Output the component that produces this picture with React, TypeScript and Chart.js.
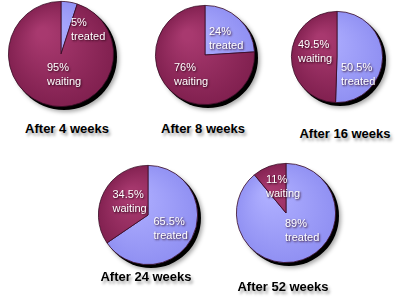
import React, { useEffect, useRef } from "react";
import { Chart, registerables } from "chart.js";

Chart.register(...registerables);

// ---- data ----
const categories = ["After 4 weeks", "After 8 weeks", "After 16 weeks", "After 24 weeks", "After 52 weeks"];
const sliceNames = ["treated", "waiting"];
const treatedPct = [5, 24, 50.5, 65.5, 89];
const waitingPct = [95, 76, 49.5, 34.5, 11];

// ---- layout / style ----
const pieCenters = [
  [61, 54],
  [205, 55],
  [337, 57],
  [147.5, 215],
  [286, 213],
];
const pieRadii = [53, 50, 46, 50, 50];
const titleCenters = [
  [67, 127.5],
  [203, 127.5],
  [345, 132.5],
  [146, 276],
  [283, 286],
];
// label anchor (left x, first line middle y) relative to pie centre, for [treated, waiting]
const labelOffsets = [
  [[10, -31], [-14, 14]],
  [[4, -23], [-31, 13]],
  [[4, 11], [-39, -12]],
  [[5.5, 7], [-35.5, -20]],
  [[-1, 11], [-20, -33]],
];

const PAD = 2;
const EXTRA = 10;

const colorSets = [
  ["#aeaeff", "#8f8ff2"], // treated (light, dark)
  ["#a8396f", "#7f1f4e"], // waiting
];

function sliceFill(ctx: any) {
  const idx = ctx.dataIndex ?? 0;
  const chart = ctx.chart;
  const area = chart.chartArea;
  if (!area || !isFinite(area.left)) return colorSets[idx][0];
  const cx = (area.left + area.right) / 2;
  const cy = (area.top + area.bottom) / 2;
  const r = (area.right - area.left) / 2;
  const g = chart.ctx.createRadialGradient(cx - r * 0.35, cy - r * 0.4, r * 0.1, cx, cy, r * 1.05);
  g.addColorStop(0, colorSets[idx][0]);
  g.addColorStop(1, colorSets[idx][1]);
  return g;
}

const shadowPlugin = {
  id: "pieShadow",
  beforeDatasetsDraw(chart: any) {
    const area = chart.chartArea;
    const cx = (area.left + area.right) / 2;
    const cy = (area.top + area.bottom) / 2;
    const r = (area.right - area.left) / 2;
    const ctx = chart.ctx;
    ctx.save();
    ctx.shadowColor = "rgba(0,0,0,0.35)";
    ctx.shadowBlur = 4;
    ctx.shadowOffsetX = 2;
    ctx.shadowOffsetY = 2;
    ctx.beginPath();
    ctx.arc(cx + 3, cy + 3, r, 0, Math.PI * 2);
    ctx.fillStyle = "#000";
    ctx.fill();
    ctx.restore();
  },
};

const labelPlugin = {
  id: "sliceLabels",
  afterDatasetsDraw(chart: any) {
    const area = chart.chartArea;
    const cx = (area.left + area.right) / 2;
    const cy = (area.top + area.bottom) / 2;
    const ctx = chart.ctx;
    const idx = chart.options.plugins.sliceLabels.index;
    const ds = chart.data.datasets[0];
    ctx.save();
    ctx.font = "11px Arial, 'Liberation Sans', sans-serif";
    ctx.fillStyle = "#ffffff";
    ctx.textAlign = "left";
    ctx.textBaseline = "middle";
    ctx.shadowColor = "rgba(40,0,20,0.9)";
    ctx.shadowBlur = 2;
    ctx.shadowOffsetX = 1;
    ctx.shadowOffsetY = 1;
    ds.data.forEach((v: number, i: number) => {
      const [dx, dy] = labelOffsets[idx][i];
      ctx.fillText(`${v}%`, cx + dx, cy + dy);
      ctx.fillText(chart.data.labels[i], cx + dx, cy + dy + 14);
    });
    ctx.restore();
  },
};

function Pie({ index }: { index: number }) {
  const ref = useRef<HTMLCanvasElement>(null);
  const r = pieRadii[index];
  const [cx, cy] = pieCenters[index];
  const size = 2 * r + PAD + EXTRA;
  useEffect(() => {
    if (!ref.current) return;
    const chart = new Chart(ref.current, {
      type: "pie",
      data: {
        labels: sliceNames,
        datasets: [
          {
            data: [treatedPct[index], waitingPct[index]],
            backgroundColor: sliceFill as any,
            borderColor: "#3a0c26",
            borderWidth: 0.8,
            hoverOffset: 0,
          },
        ],
      },
      options: {
        responsive: false,
        animation: false,
        events: [],
        layout: { padding: { left: PAD, top: PAD, right: EXTRA, bottom: EXTRA } },
        plugins: {
          legend: { display: false },
          tooltip: { enabled: false },
          title: { display: false },
          sliceLabels: { index },
        } as any,
      },
      plugins: [shadowPlugin, labelPlugin],
    });
    return () => chart.destroy();
  }, [index]);
  return (
    <canvas
      ref={ref}
      width={size}
      height={size}
      style={{
        position: "absolute",
        left: cx - r - PAD,
        top: cy - r - PAD,
        width: size,
        height: size,
      }}
    />
  );
}

export default function App() {
  return (
    <div
      style={{
        position: "absolute",
        left: 0,
        top: 0,
        width: 400,
        height: 300,
        background: "#ffffff",
        overflow: "hidden",
      }}
    >
      {categories.map((c, i) => (
        <React.Fragment key={c}>
          <Pie index={i} />
          <div
            style={{
              position: "absolute",
              left: titleCenters[i][0],
              top: titleCenters[i][1],
              transform: "translate(-50%, -50%)",
              whiteSpace: "nowrap",
              font: "bold 13px Arial, 'Liberation Sans', sans-serif",
              color: "#000",
              textShadow: "2px 3px 3px rgba(0,0,0,0.35)",
            }}
          >
            {c}
          </div>
        </React.Fragment>
      ))}
    </div>
  );
}
